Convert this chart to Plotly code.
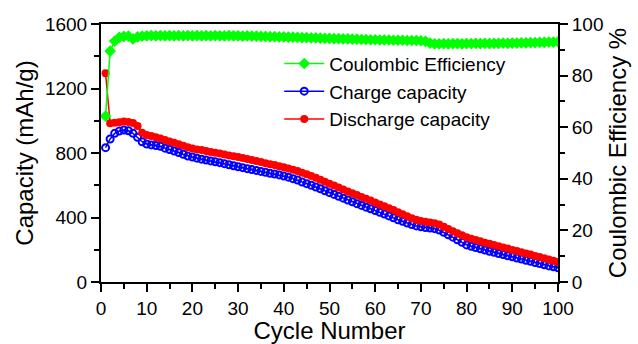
import plotly.graph_objects as go

cycles = list(range(1, 101))

discharge_capacity = [
    1294, 984, 988, 990, 995, 992, 986, 968, 925, 912,
    905, 897, 890, 880, 872, 864, 855, 845, 836, 828,
    822, 818, 812, 806, 802, 797, 791, 785, 780, 775,
    769, 763, 757, 750, 744, 737, 731, 726, 718, 711,
    704, 696, 688, 677, 668, 657, 646, 634, 622, 610,
    598, 586, 574, 562, 550, 539, 527, 516, 505, 493,
    481, 470, 458, 446, 432, 420, 408, 396, 386, 378,
    373, 369, 364, 356, 343, 329, 315, 302, 290, 278,
    268, 260, 252, 244, 237, 229, 222, 214, 207, 199,
    192, 185, 177, 170, 162, 155, 147, 140, 132, 124,
]

charge_capacity = [
    833, 887, 922, 936, 942, 938, 922, 897, 870, 856,
    850, 846, 842, 830, 822, 812, 803, 792, 781, 775,
    768, 762, 756, 751, 745, 740, 734, 727, 721, 715,
    709, 703, 697, 692, 686, 680, 674, 670, 664, 657,
    650, 641, 632, 620, 610, 600, 589, 578, 566, 554,
    543, 532, 520, 508, 497, 486, 475, 464, 454, 443,
    432, 421, 410, 398, 386, 376, 366, 356, 348, 342,
    338, 335, 331, 322, 308, 293, 278, 262, 246, 230,
    222, 214, 206, 198, 191, 184, 177, 170, 163, 156,
    149, 142, 135, 128, 121, 114, 107, 100, 94, 88,
]

coulombic_efficiency = [
    64.3, 89.5, 93.4, 94.8, 95.2, 95.3, 94.2, 95.0, 95.3, 95.4,
    95.5, 95.4, 95.5, 95.4, 95.5, 95.4, 95.5, 95.4, 95.5, 95.4,
    95.5, 95.4, 95.5, 95.4, 95.5, 95.4, 95.4, 95.5, 95.4, 95.4,
    95.3, 95.4, 95.3, 95.3, 95.2, 95.2, 95.1, 95.1, 95.0, 95.0,
    94.9, 94.9, 94.8, 94.7, 94.7, 94.6, 94.6, 94.5, 94.4, 94.4,
    94.3, 94.3, 94.2, 94.2, 94.1, 94.1, 94.0, 94.0, 93.9, 93.9,
    93.8, 93.8, 93.8, 93.7, 93.7, 93.7, 93.6, 93.6, 93.6, 93.5,
    93.3, 92.6, 92.3, 92.3, 92.4, 92.3, 92.4, 92.4, 92.3, 92.4,
    92.4, 92.5, 92.4, 92.5, 92.4, 92.5, 92.5, 92.6, 92.5, 92.6,
    92.6, 92.7, 92.7, 92.8, 92.8, 92.9, 92.9, 93.0, 93.0, 93.1,
]

x_ticks = [0, 10, 20, 30, 40, 50, 60, 70, 80, 90, 100]
y_ticks = [0, 400, 800, 1200, 1600]
y2_ticks = [0, 20, 40, 60, 80, 100]

FONT = "Liberation Sans, Arial, sans-serif"

fig = go.Figure()

fig.add_trace(go.Scatter(
    x=cycles, y=coulombic_efficiency, name="Coulombic Efficiency",
    mode="lines+markers", yaxis="y2",
    line=dict(color="#00FF00", width=1.5),
    marker=dict(symbol="diamond", size=9, color="#00FF00"),
))
fig.add_trace(go.Scatter(
    x=cycles, y=charge_capacity, name="Charge capacity",
    mode="lines+markers",
    line=dict(color="#0000FF", width=1.5),
    marker=dict(symbol="circle-open", size=7, color="#0000FF",
                line=dict(width=2, color="#0000FF")),
))
fig.add_trace(go.Scatter(
    x=cycles, y=discharge_capacity, name="Discharge capacity",
    mode="lines+markers",
    line=dict(color="#FF0000", width=1.5),
    marker=dict(symbol="circle", size=8, color="#FF0000"),
))

axis_common = dict(
    showline=True, linecolor="black", linewidth=2,
    ticks="outside", ticklen=8, tickwidth=2, tickcolor="black",
    showgrid=False, zeroline=False,
    tickfont=dict(family=FONT, size=19, color="black"),
)

fig.update_layout(
    width=638, height=344,
    margin=dict(l=101, r=80, t=24, b=62, autoexpand=False),
    paper_bgcolor="white", plot_bgcolor="white",
    font=dict(family=FONT, color="black"),
    showlegend=True,
    legend=dict(
        x=0.39, y=0.92, xanchor="left", yanchor="top",
        bgcolor="rgba(0,0,0,0)", borderwidth=0,
        font=dict(family=FONT, size=19, color="black"),
        itemwidth=40,
    ),
    xaxis=dict(
        range=[0, 100], tickvals=x_ticks, mirror=True,
        minor=dict(ticks="outside", dtick=5, ticklen=5, tickwidth=2, tickcolor="black", showgrid=False),
        title=dict(text="Cycle Number", font=dict(family=FONT, size=24, color="black"), standoff=9),
        **axis_common,
    ),
    yaxis=dict(
        range=[0, 1600], tickvals=y_ticks,
        minor=dict(ticks="outside", dtick=200, ticklen=5, tickwidth=2, tickcolor="black", showgrid=False),
        title=dict(text="Capacity (mAh/g)", font=dict(family=FONT, size=24, color="black"), standoff=5),
        **axis_common,
    ),
    yaxis2=dict(
        range=[0, 100], tickvals=y2_ticks, overlaying="y", side="right",
        minor=dict(ticks="outside", dtick=10, ticklen=5, tickwidth=2, tickcolor="black", showgrid=False),
        title=dict(text="Coulombic Efficiency %", font=dict(family=FONT, size=24, color="black"), standoff=7),
        **axis_common,
    ),
)

fig.write_html("out.html")
